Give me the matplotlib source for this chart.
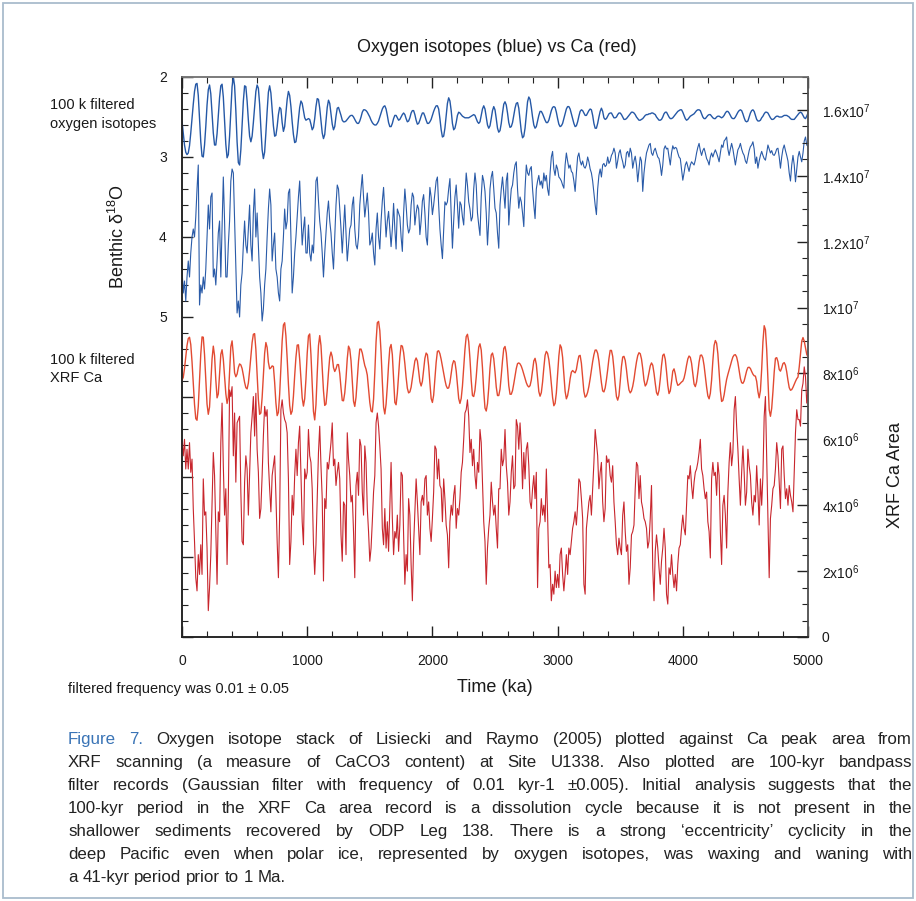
import matplotlib.pyplot as plt
import numpy as np
from matplotlib.patches import Rectangle
from matplotlib.ticker import FixedLocator, FixedFormatter, MultipleLocator

plt.rcParams['font.family'] = ['Liberation Sans', 'DejaVu Sans']
plt.rcParams['mathtext.fontset'] = 'custom'
plt.rcParams['mathtext.rm'] = 'Liberation Sans'
plt.rcParams['mathtext.default'] = 'regular'

# all records sampled every 10 ka, 0 - 5000 ka
AGE_STEP = 10

# benthic d18O stack (per mil)
d18o_raw = [
    4.40, 4.70, 4.55, 4.80, 4.50, 4.30, 4.50, 4.20, 4.00, 3.90,
    4.00, 3.75, 3.40, 3.10, 4.85, 4.60, 4.70, 4.50, 4.65, 4.40,
    4.00, 3.60, 3.90, 3.50, 3.45, 4.50, 4.40, 4.60, 4.30, 3.95,
    3.80, 4.50, 3.90, 3.25, 3.80, 4.50, 4.50, 4.10, 3.80, 3.30,
    3.15, 3.20, 3.80, 4.40, 4.95, 4.80, 5.00, 4.60, 4.45, 4.10,
    3.80, 4.10, 4.20, 3.90, 3.60, 4.10, 4.30, 3.70, 3.40, 4.00,
    3.70, 4.10, 4.50, 4.70, 5.05, 4.90, 4.60, 4.40, 4.00, 3.65,
    3.40, 3.60, 4.30, 4.10, 3.95, 4.40, 4.50, 4.70, 4.80, 4.40,
    4.30, 4.00, 3.65, 3.90, 3.80, 3.45, 3.40, 4.00, 4.70, 4.50,
    4.20, 4.00, 3.75, 3.50, 3.30, 3.70, 4.10, 3.90, 3.75, 4.20,
    4.20, 3.85, 4.20, 4.30, 4.10, 4.20, 3.80, 3.30, 3.25, 3.55,
    3.80, 3.95, 4.20, 4.50, 4.20, 3.95, 3.70, 3.55, 3.80, 3.95,
    4.20, 4.40, 4.00, 3.60, 3.35, 3.40, 3.65, 3.90, 4.20, 3.90,
    3.60, 3.95, 4.30, 4.10, 3.90, 3.85, 3.60, 3.50, 3.90, 4.10,
    4.15, 4.00, 3.60, 3.40, 3.22, 3.50, 3.75, 3.60, 3.45, 3.70,
    4.10, 4.05, 3.95, 4.20, 4.35, 3.90, 3.70, 4.00, 4.15, 3.80,
    3.55, 3.38, 3.70, 4.00, 3.80, 3.68, 3.90, 4.12, 3.90, 3.58,
    3.90, 4.15, 3.65, 3.70, 3.75, 4.00, 4.18, 3.70, 3.40, 3.60,
    3.85, 3.95, 3.90, 3.60, 3.45, 3.50, 3.85, 3.70, 3.60, 3.65,
    3.97, 3.80, 3.55, 3.47, 3.70, 4.00, 4.10, 3.70, 3.38, 3.50,
    3.72, 3.60, 3.45, 3.30, 3.25, 3.60, 3.90, 4.10, 4.27, 3.90,
    3.56, 3.60, 3.56, 3.40, 3.27, 3.70, 4.14, 3.80, 3.50, 3.35,
    3.60, 3.89, 3.56, 3.60, 3.75, 3.85, 3.50, 3.20, 3.35, 3.56,
    3.65, 3.80, 3.75, 3.40, 3.20, 3.35, 3.70, 3.85, 3.98, 3.50,
    3.23, 3.30, 3.43, 3.70, 4.10, 3.80, 3.40, 3.25, 3.18, 3.40,
    3.64, 3.70, 3.95, 4.14, 3.60, 3.40, 3.25, 3.45, 3.64, 3.30,
    3.20, 3.85, 3.60, 3.40, 3.35, 3.20, 3.10, 3.06, 3.40, 3.64,
    3.50, 3.56, 3.70, 3.87, 3.40, 3.10, 3.20, 3.23, 3.15, 3.12,
    3.40, 3.60, 3.77, 3.40, 3.30, 3.23, 3.35, 3.30, 3.39, 3.20,
    3.30, 3.23, 3.40, 3.48, 3.20, 3.00, 2.93, 3.15, 3.23, 3.10,
    3.15, 3.25, 3.27, 3.30, 3.35, 3.39, 3.10, 2.95, 3.05, 3.14,
    3.10, 3.18, 3.20, 3.30, 3.43, 3.20, 3.00, 2.95, 3.05, 3.10,
    3.05, 3.12, 3.14, 3.10, 3.00, 3.06, 3.15, 3.20, 3.30, 3.45,
    3.60, 3.72, 3.40, 3.23, 3.15, 3.25, 3.10, 3.08, 3.12, 3.10,
    3.00, 3.08, 3.05, 2.98, 2.95, 2.89, 2.95, 3.14, 3.05, 2.95,
    2.91, 3.00, 3.06, 3.14, 3.10, 2.95, 2.93, 3.00, 2.89, 2.95,
    3.14, 3.05, 2.99, 3.10, 3.31, 3.15, 3.00, 3.05, 3.43, 3.20,
    3.06, 2.95, 2.90, 2.85, 2.83, 2.95, 2.98, 2.92, 2.89, 2.95,
    3.00, 3.02, 3.10, 3.23, 3.10, 2.90, 2.86, 2.90, 2.89, 3.00,
    3.10, 2.95, 2.86, 2.90, 2.88, 2.89, 2.95, 3.00, 3.02, 3.15,
    3.29, 3.20, 3.10, 3.06, 3.12, 3.18, 3.10, 3.06, 3.08, 3.10,
    3.04, 2.95, 2.88, 2.83, 2.92, 2.98, 2.92, 2.89, 2.95, 3.02,
    3.05, 3.10, 3.00, 2.95, 3.00, 2.95, 2.91, 2.95, 3.00, 3.06,
    2.95, 2.85, 2.88, 2.80, 2.78, 2.75, 2.90, 2.98, 2.90, 2.83,
    2.90, 3.00, 3.10, 3.00, 2.91, 2.88, 2.83, 2.90, 2.95, 2.98,
    3.05, 3.08, 3.00, 2.92, 2.87, 2.85, 2.81, 2.90, 3.08, 3.00,
    3.14, 3.05, 2.98, 2.93, 2.98, 3.02, 3.04, 2.95, 2.85, 2.90,
    2.95, 2.92, 2.97, 2.98, 2.95, 2.90, 2.89, 3.00, 3.14, 3.00,
    2.90, 2.85, 2.92, 2.98, 3.05, 3.20, 3.30, 3.10, 2.98, 3.10,
    3.31, 3.15, 3.00, 2.93, 3.00, 3.06, 2.95, 2.80, 2.75, 2.85,
    2.87,
]

# 100-kyr bandpass of the d18O stack, drawn offset above the raw record
d18o_filt = [
    2.55, 2.70, 2.85, 2.94, 2.97, 2.95, 2.86, 2.70, 2.52, 2.34,
    2.18, 2.09, 2.08, 2.23, 2.52, 2.81, 2.99, 3.00, 2.85, 2.62,
    2.35, 2.16, 2.10, 2.21, 2.45, 2.70, 2.85, 2.85, 2.71, 2.49,
    2.26, 2.11, 2.09, 2.25, 2.55, 2.84, 3.01, 2.97, 2.74, 2.42,
    2.12, 2.00, 2.11, 2.42, 2.81, 3.07, 3.10, 2.91, 2.60, 2.30,
    2.11, 2.12, 2.30, 2.54, 2.74, 2.81, 2.74, 2.57, 2.37, 2.18,
    2.10, 2.14, 2.34, 2.64, 2.91, 3.02, 2.94, 2.70, 2.43, 2.19,
    2.11, 2.20, 2.40, 2.61, 2.74, 2.73, 2.62, 2.47, 2.38, 2.40,
    2.57, 2.68, 2.62, 2.45, 2.28, 2.18, 2.23, 2.37, 2.56, 2.72,
    2.82, 2.81, 2.70, 2.53, 2.38, 2.30, 2.33, 2.42, 2.51, 2.54,
    2.53, 2.52, 2.53, 2.59, 2.66, 2.63, 2.52, 2.37, 2.27, 2.28,
    2.39, 2.55, 2.70, 2.77, 2.72, 2.55, 2.38, 2.29, 2.33, 2.46,
    2.59, 2.66, 2.62, 2.49, 2.39, 2.38, 2.43, 2.48, 2.54, 2.56,
    2.56, 2.55, 2.53, 2.51, 2.49, 2.48, 2.48, 2.50, 2.53, 2.56,
    2.58, 2.58, 2.55, 2.50, 2.44, 2.41, 2.41, 2.42, 2.44, 2.47,
    2.50, 2.54, 2.57, 2.59, 2.60, 2.60, 2.58, 2.55, 2.50, 2.45,
    2.40, 2.37, 2.36, 2.40, 2.48, 2.57, 2.62, 2.62, 2.58, 2.52,
    2.48, 2.48, 2.51, 2.54, 2.53, 2.50, 2.47, 2.45, 2.47, 2.52,
    2.56, 2.55, 2.51, 2.45, 2.42, 2.42, 2.47, 2.54, 2.59, 2.58,
    2.54, 2.49, 2.45, 2.45, 2.49, 2.54, 2.58, 2.58, 2.56, 2.53,
    2.48, 2.43, 2.39, 2.36, 2.36, 2.40, 2.52, 2.66, 2.75, 2.74,
    2.64, 2.48, 2.33, 2.26, 2.30, 2.42, 2.58, 2.66, 2.64, 2.57,
    2.48, 2.44, 2.45, 2.47, 2.49, 2.50, 2.51, 2.51, 2.51, 2.51,
    2.50, 2.49, 2.48, 2.47, 2.48, 2.52, 2.56, 2.58, 2.56, 2.48,
    2.40, 2.36, 2.40, 2.50, 2.60, 2.64, 2.61, 2.52, 2.42, 2.37,
    2.41, 2.52, 2.64, 2.69, 2.67, 2.58, 2.45, 2.34, 2.31, 2.35,
    2.45, 2.57, 2.63, 2.62, 2.57, 2.48, 2.39, 2.33, 2.32, 2.39,
    2.53, 2.68, 2.76, 2.74, 2.64, 2.47, 2.31, 2.25, 2.28, 2.38,
    2.50, 2.60, 2.64, 2.62, 2.55, 2.48, 2.43, 2.43, 2.46, 2.50,
    2.54, 2.57, 2.57, 2.54, 2.48, 2.42, 2.38, 2.37, 2.38, 2.44,
    2.52, 2.59, 2.62, 2.61, 2.58, 2.52, 2.46, 2.40, 2.37, 2.37,
    2.40, 2.46, 2.52, 2.58, 2.62, 2.61, 2.56, 2.49, 2.43, 2.41,
    2.42, 2.45, 2.48, 2.48, 2.45, 2.42, 2.40, 2.41, 2.48, 2.58,
    2.64, 2.64, 2.58, 2.50, 2.43, 2.39, 2.43, 2.51, 2.53, 2.52,
    2.49, 2.46, 2.45, 2.45, 2.48, 2.51, 2.51, 2.50, 2.47, 2.45,
    2.45, 2.47, 2.50, 2.53, 2.53, 2.52, 2.50, 2.48, 2.46, 2.44,
    2.44, 2.45, 2.47, 2.50, 2.52, 2.54, 2.54, 2.53, 2.52, 2.50,
    2.48, 2.47, 2.47, 2.46, 2.46, 2.45, 2.45, 2.46, 2.47, 2.50,
    2.52, 2.54, 2.54, 2.53, 2.50, 2.46, 2.44, 2.44, 2.47, 2.50,
    2.52, 2.52, 2.51, 2.49, 2.47, 2.45, 2.43, 2.42, 2.41, 2.41,
    2.44, 2.48, 2.52, 2.54, 2.53, 2.51, 2.49, 2.48, 2.47, 2.46,
    2.44, 2.42, 2.41, 2.41, 2.42, 2.46, 2.50, 2.52, 2.52, 2.50,
    2.48, 2.47, 2.47, 2.49, 2.51, 2.52, 2.52, 2.50, 2.49, 2.49,
    2.50, 2.51, 2.50, 2.48, 2.45, 2.43, 2.43, 2.45, 2.48, 2.51,
    2.52, 2.52, 2.50, 2.47, 2.44, 2.42, 2.41, 2.42, 2.46, 2.51,
    2.55, 2.56, 2.55, 2.50, 2.45, 2.42, 2.41, 2.43, 2.48, 2.53,
    2.55, 2.55, 2.54, 2.51, 2.49, 2.46, 2.44, 2.44, 2.45, 2.48,
    2.51, 2.53, 2.53, 2.52, 2.50, 2.49, 2.49, 2.50, 2.50, 2.50,
    2.49, 2.48, 2.48, 2.48, 2.49, 2.50, 2.52, 2.53, 2.53, 2.53,
    2.51, 2.49, 2.47, 2.45, 2.44, 2.45, 2.48, 2.51, 2.52, 2.49,
    2.45,
]

# XRF Ca peak area, U1338 (millions of counts)
ca_raw = [
    5.9, 5.5, 6.0, 5.1, 5.7, 5.1, 5.9, 5.0, 5.4, 3.9,
    2.9, 1.8, 1.4, 2.5, 1.9, 2.8, 1.9, 4.8, 3.7, 3.8,
    2.7, 0.8, 1.5, 2.5, 4.0, 5.6, 4.9, 3.2, 1.6, 3.8,
    3.5, 5.9, 7.1, 5.2, 3.7, 4.5, 2.2, 4.2, 7.5, 7.3,
    7.6, 5.5, 6.8, 4.7, 6.5, 6.6, 6.7, 4.4, 2.9, 2.8,
    4.7, 5.5, 5.1, 3.7, 5.0, 6.2, 6.7, 7.3, 6.1, 7.4,
    5.7, 5.0, 3.6, 3.9, 4.9, 6.1, 7.0, 6.7, 6.9, 5.3,
    4.5, 3.8, 4.9, 5.2, 5.5, 4.3, 2.9, 1.8, 3.7, 6.9,
    7.2, 6.8, 6.6, 6.5, 6.2, 4.8, 2.2, 2.9, 4.3, 3.7,
    4.9, 5.7, 4.9, 5.9, 6.4, 5.0, 3.5, 2.8, 5.1, 4.8,
    5.0, 6.3, 5.5, 5.3, 4.5, 2.8, 1.9, 2.8, 4.2, 5.6,
    6.4, 5.2, 4.2, 1.7, 4.2, 3.9, 5.3, 5.1, 5.5, 5.9,
    6.5, 5.2, 5.4, 4.6, 5.0, 5.3, 4.8, 3.1, 2.3, 4.1,
    4.0, 2.5, 6.2, 5.4, 4.9, 4.1, 4.3, 3.2, 1.8, 4.6,
    5.0, 4.3, 6.0, 5.8, 4.4, 3.7, 5.8, 5.3, 3.9, 3.2,
    2.3, 2.7, 3.5, 4.4, 4.9, 6.5, 6.8, 6.4, 5.8, 5.1,
    3.3, 2.8, 3.9, 2.7, 3.5, 2.6, 4.0, 5.3, 3.6, 2.5,
    3.2, 3.0, 3.7, 2.6, 3.4, 5.0, 4.9, 3.1, 1.6, 2.5,
    2.0, 4.2, 3.7, 2.2, 1.1, 2.8, 3.8, 4.8, 4.1, 3.3,
    2.5, 4.1, 4.3, 4.0, 4.8, 4.9, 3.7, 4.1, 3.3, 2.9,
    3.6, 4.4, 5.8, 5.7, 4.8, 5.4, 4.6, 4.5, 3.5, 4.8,
    4.2, 3.4, 3.1, 2.1, 3.5, 4.0, 3.7, 4.3, 4.6, 3.3,
    3.9, 3.7, 4.2, 5.0, 5.3, 6.0, 6.8, 6.9, 7.2, 6.7,
    5.6, 6.0, 5.2, 5.7, 4.9, 4.5, 5.3, 5.0, 6.3, 5.9,
    4.7, 3.5, 2.9, 1.6, 2.7, 3.3, 3.7, 4.7, 4.1, 3.7,
    4.0, 3.3, 2.7, 4.5, 4.5, 5.7, 5.2, 5.4, 6.3, 5.2,
    4.7, 3.7, 4.1, 5.0, 5.5, 4.5, 4.6, 6.6, 6.4, 5.7,
    6.5, 5.8, 4.5, 5.6, 4.8, 5.7, 5.9, 5.2, 4.1, 3.9,
    4.5, 4.9, 4.2, 5.0, 1.5, 3.3, 3.5, 4.2, 3.7, 4.0,
    3.5, 5.1, 3.7, 2.1, 2.2, 1.1, 1.6, 1.3, 2.0, 1.5,
    1.9, 1.5, 2.5, 2.7, 1.9, 1.4, 1.9, 2.5, 1.9, 2.7,
    2.5, 2.9, 3.3, 3.5, 3.8, 3.4, 4.0, 4.8, 4.7, 4.2,
    3.6, 1.6, 1.3, 3.3, 3.7, 4.1, 4.3, 3.7, 4.5, 5.3,
    6.3, 5.9, 5.5, 4.5, 5.0, 5.3, 4.1, 3.5, 3.9, 5.5,
    5.3, 5.4, 4.9, 4.7, 5.2, 4.1, 3.5, 2.8, 2.5, 3.0,
    2.7, 2.5, 3.7, 4.1, 3.2, 2.6, 2.8, 1.6, 2.1, 3.1,
    3.2, 3.4, 4.5, 5.3, 5.2, 4.2, 4.9, 4.1, 3.9, 3.6,
    3.5, 3.3, 2.7, 2.9, 3.6, 4.6, 2.1, 1.1, 2.6, 3.1,
    2.7, 2.1, 1.6, 2.3, 2.7, 3.3, 2.7, 1.3, 1.0, 2.1,
    1.9, 2.5, 1.9, 1.5, 1.9, 1.4, 2.2, 2.7, 2.8, 3.3,
    3.7, 3.3, 3.1, 4.0, 4.9, 4.8, 5.2, 4.6, 4.2, 4.7,
    5.0, 5.1, 5.3, 5.6, 6.0, 5.1, 4.9, 4.5, 4.2, 4.4,
    3.5, 3.2, 2.4, 4.8, 5.3, 4.9, 5.0, 4.3, 5.3, 4.9,
    3.2, 2.2, 4.0, 4.3, 3.7, 2.7, 4.4, 5.3, 5.9, 5.2,
    5.6, 6.9, 7.3, 6.4, 5.7, 4.8, 4.0, 5.0, 5.8, 5.0,
    4.0, 4.4, 5.7, 5.2, 4.9, 4.1, 3.7, 4.3, 4.1, 5.2,
    4.4, 3.4, 4.8, 4.0, 4.9, 6.7, 7.3, 5.4, 3.6, 1.8,
    3.6, 4.0, 4.5, 4.6, 5.1, 5.9, 5.5, 4.7, 3.9, 5.7,
    5.8, 4.9, 4.2, 4.5, 4.0, 4.6, 4.3, 4.1, 3.8, 5.0,
    6.2, 6.9, 6.6, 6.6, 6.4, 7.5, 7.7, 8.2, 7.9, 7.1,
    7.5,
]

# 100-kyr bandpass of the Ca record, drawn offset above the raw record
ca_filt = [
    7.80, 7.88, 8.15, 8.50, 8.85, 9.06, 9.10, 8.88, 8.36, 7.70,
    7.06, 6.63, 6.58, 7.00, 7.78, 8.59, 9.11, 9.10, 8.57, 7.81,
    7.07, 6.76, 6.98, 7.69, 8.44, 8.83, 8.54, 7.81, 7.26, 7.38,
    7.98, 8.58, 8.72, 8.43, 7.90, 7.39, 7.09, 7.27, 8.04, 8.81,
    8.99, 8.57, 8.02, 7.90, 7.98, 8.18, 8.29, 8.26, 8.15, 7.95,
    7.73, 7.57, 7.53, 7.71, 8.08, 8.53, 8.94, 9.19, 9.21, 8.73,
    7.97, 7.21, 6.76, 6.80, 7.27, 7.96, 8.61, 8.94, 8.79, 8.34,
    8.14, 8.17, 8.23, 8.21, 7.73, 7.11, 6.72, 6.82, 7.37, 8.16,
    8.99, 9.47, 9.54, 9.14, 8.46, 7.68, 7.03, 6.76, 6.86, 7.31,
    7.93, 8.49, 8.86, 8.87, 8.43, 7.84, 7.26, 7.01, 7.23, 7.83,
    8.61, 9.14, 9.20, 8.57, 7.67, 6.85, 6.59, 7.05, 7.99, 8.84,
    9.15, 8.85, 8.19, 7.48, 7.03, 7.07, 7.49, 8.03, 8.49, 8.65,
    8.51, 8.18, 8.06, 8.14, 8.27, 8.27, 8.00, 7.56, 7.18, 7.17,
    7.41, 7.86, 8.45, 8.83, 8.74, 8.39, 7.77, 7.16, 7.00, 7.28,
    7.81, 8.38, 8.74, 8.74, 8.62, 8.42, 8.24, 8.13, 7.95, 7.55,
    7.12, 6.86, 6.83, 7.22, 8.03, 8.96, 9.54, 9.58, 9.30, 8.64,
    7.76, 6.98, 6.77, 7.07, 7.62, 8.27, 8.77, 8.88, 8.57, 7.84,
    7.12, 7.05, 7.40, 7.95, 8.50, 8.85, 8.83, 8.64, 8.30, 7.88,
    7.55, 7.41, 7.44, 7.58, 7.85, 8.13, 8.38, 8.47, 8.38, 8.08,
    7.75, 7.62, 7.76, 8.12, 8.46, 8.62, 8.57, 8.23, 7.71, 7.24,
    7.12, 7.34, 7.84, 8.34, 8.67, 8.69, 8.60, 8.43, 8.22, 8.00,
    7.80, 7.63, 7.55, 7.56, 7.72, 8.00, 8.27, 8.39, 8.35, 8.08,
    7.66, 7.24, 7.09, 7.24, 7.62, 8.17, 8.73, 9.12, 9.19, 8.97,
    8.45, 7.80, 7.33, 7.30, 7.49, 7.89, 8.40, 8.80, 8.90, 8.71,
    8.17, 7.47, 6.95, 6.86, 7.08, 7.56, 8.16, 8.56, 8.62, 8.45,
    8.05, 7.59, 7.33, 7.33, 7.52, 7.93, 8.39, 8.76, 8.82, 8.62,
    8.16, 7.63, 7.37, 7.37, 7.48, 7.69, 7.93, 8.15, 8.30, 8.32,
    8.29, 8.22, 8.11, 7.98, 7.85, 7.72, 7.63, 7.59, 7.63, 7.80,
    8.09, 8.38, 8.46, 8.28, 7.88, 7.45, 7.31, 7.42, 7.74, 8.17,
    8.55, 8.67, 8.61, 8.42, 8.10, 7.68, 7.27, 7.02, 7.09, 7.41,
    7.95, 8.53, 8.87, 8.79, 8.49, 7.98, 7.46, 7.23, 7.33, 7.55,
    7.84, 8.04, 8.09, 8.05, 8.02, 8.12, 8.35, 8.53, 8.55, 8.31,
    7.88, 7.45, 7.28, 7.32, 7.43, 7.61, 7.84, 8.10, 8.36, 8.57,
    8.71, 8.71, 8.61, 8.38, 8.06, 7.72, 7.47, 7.44, 7.56, 7.81,
    8.11, 8.45, 8.70, 8.70, 8.52, 8.14, 7.67, 7.30, 7.19, 7.33,
    7.75, 8.21, 8.50, 8.52, 8.40, 8.12, 7.77, 7.50, 7.41, 7.47,
    7.61, 7.82, 8.10, 8.35, 8.54, 8.63, 8.60, 8.44, 8.15, 7.80,
    7.62, 7.68, 7.83, 8.03, 8.23, 8.32, 8.25, 8.01, 7.70, 7.42,
    7.34, 7.49, 7.83, 8.24, 8.55, 8.59, 8.43, 8.06, 7.64, 7.39,
    7.47, 7.75, 8.07, 8.14, 7.99, 7.76, 7.64, 7.66, 7.70, 7.74,
    7.77, 7.86, 8.03, 8.25, 8.44, 8.53, 8.49, 8.31, 8.00, 7.68,
    7.60, 7.74, 8.03, 8.35, 8.55, 8.56, 8.47, 8.24, 7.92, 7.59,
    7.32, 7.23, 7.40, 7.80, 8.38, 8.85, 9.00, 8.92, 8.60, 8.05,
    7.48, 7.15, 7.18, 7.35, 7.60, 7.82, 7.97, 8.10, 8.24, 8.38,
    8.50, 8.56, 8.57, 8.50, 8.33, 8.08, 7.85, 7.72, 7.70, 7.77,
    7.92, 8.08, 8.18, 8.19, 8.15, 8.06, 7.98, 7.93, 7.92, 7.76,
    7.45, 7.26, 7.48, 8.13, 8.96, 9.45, 9.33, 8.73, 7.78, 6.90,
    6.70, 6.94, 7.45, 8.04, 8.46, 8.48, 8.36, 8.12, 8.07, 8.17,
    8.30, 8.33, 8.25, 8.05, 7.79, 7.57, 7.49, 7.51, 7.58, 7.67,
    7.76, 7.84, 7.89, 8.20, 8.60, 8.98, 9.09, 8.98, 8.78, 8.58,
    8.50,
]

x_ticks = [0, 1000, 2000, 3000, 4000, 5000]
d18o_ticks = [2, 3, 4, 5]
ca_ticks = [0, 2e6, 4e6, 6e6, 8e6, 1e7, 1.2e7, 1.4e7, 1.6e7]
ca_tick_labels = ['0', '2x10$^{6}$', '4x10$^{6}$', '6x10$^{6}$', '8x10$^{6}$',
                  '1x10$^{7}$', '1.2x10$^{7}$', '1.4x10$^{7}$', '1.6x10$^{7}$']

caption_lines = [
    'Figure 7. Oxygen isotope stack of Lisiecki and Raymo (2005) plotted against Ca peak area from',
    'XRF scanning (a measure of CaCO3 content) at Site U1338. Also plotted are 100-kyr bandpass',
    'filter records (Gaussian filter with frequency of 0.01 kyr-1 \u00b10.005). Initial analysis suggests that the',
    '100-kyr period in the XRF Ca  area record is a dissolution cycle because it is not present in the',
    'shallower sediments recovered by ODP Leg 138. There is a strong \u2018eccentricity\u2019 cyclicity in the',
    'deep Pacific even when polar ice, represented by oxygen isotopes, was waxing and waning with',
    'a 41-kyr period prior to 1 Ma.',
]

W, H = 916, 901
BLUE_RAW = '#2a5ba8'
BLUE_FILT = '#2558a6'
RED_RAW = '#c8262d'
RED_FILT = '#e24a32'
TEXT = '#1a1a1a'


def fx(px):
    return px / W


def fy(py):
    return 1 - py / H


fig = plt.figure(figsize=(W / 100, H / 100), dpi=100)
fig.patch.set_facecolor('white')

age = np.arange(len(d18o_raw)) * AGE_STEP

ax = fig.add_axes([fx(182), fy(637), (808 - 182) / W, (637 - 77) / H])
ax.plot(age, d18o_raw, color=BLUE_RAW, lw=0.8)
ax.plot(age, d18o_filt, color=BLUE_FILT, lw=1.0)
ax.set_xlim(0, 5000)
ax.set_ylim(9, 2)

ax.xaxis.set_major_locator(FixedLocator(x_ticks))
ax.xaxis.set_minor_locator(MultipleLocator(200))
ax.yaxis.set_major_locator(FixedLocator(range(2, 10)))
ax.yaxis.set_major_formatter(FixedFormatter(
    [str(v) if v in d18o_ticks else '' for v in range(2, 10)]))
ax.yaxis.set_minor_locator(MultipleLocator(0.2))
ax.tick_params(which='both', direction='in', top=True, colors='#222222',
               labelsize=10, labelcolor=TEXT)
ax.tick_params(axis='x', which='major', length=8, width=1.0, pad=12)
ax.tick_params(axis='x', which='minor', length=4, width=0.8)
ax.tick_params(axis='y', which='major', length=8, width=1.0, pad=11)
ax.tick_params(axis='y', which='minor', length=4, width=0.8)

ax2 = ax.twinx()
ax2.plot(age, np.array(ca_raw) * 1e6, color=RED_RAW, lw=0.8)
ax2.plot(age, np.array(ca_filt) * 1e6, color=RED_FILT, lw=1.0)
ax2.set_ylim(0, 1.7e7)
ax2.yaxis.set_major_locator(FixedLocator(ca_ticks))
ax2.yaxis.set_major_formatter(FixedFormatter(ca_tick_labels))
ax2.yaxis.set_minor_locator(MultipleLocator(5e5))
ax2.tick_params(which='both', direction='in', colors='#222222',
                labelsize=10, labelcolor=TEXT)
ax2.tick_params(which='major', length=8, width=1.0, pad=10)
ax2.tick_params(which='minor', length=4, width=0.8)

for a in (ax, ax2):
    a.spines['left'].set_color('#222222')
    a.spines['bottom'].set_color('#222222')
    a.spines['top'].set_color('#777777')
    a.spines['right'].set_color('#555555')
    for s in a.spines.values():
        s.set_linewidth(1.1)

# headings and labels
fig.text(fx(497), fy(48), 'Oxygen isotopes (blue) vs Ca (red)', ha='center',
         va='center', fontsize=13, color=TEXT)
fig.text(fx(495), fy(688), 'Time (ka)', ha='center', va='center',
         fontsize=13, color=TEXT)
fig.text(fx(118), fy(237), 'Benthic \u03b4$^{18}$O', ha='center', va='center',
         rotation=90, fontsize=13, color=TEXT)
fig.text(fx(895), fy(475), 'XRF Ca Area', ha='center', va='center',
         rotation=90, fontsize=13, color=TEXT)

fig.text(fx(50), fy(105), '100 k filtered', va='center', fontsize=10.5, color=TEXT)
fig.text(fx(50), fy(124), 'oxygen isotopes', va='center', fontsize=10.5, color=TEXT)
fig.text(fx(50), fy(360), '100 k filtered', va='center', fontsize=10.5, color=TEXT)
fig.text(fx(50), fy(378), 'XRF Ca', va='center', fontsize=10.5, color=TEXT)
fig.text(fx(68), fy(689), 'filtered frequency was 0.01 \u00b1 0.05', va='center',
         fontsize=10.5, color=TEXT)

# justified caption block
renderer = fig.canvas.get_renderer()
left_px, right_px = 68, 912
cap_size = 12.2
space_px = cap_size * 100 / 72 * 0.28
for i, line in enumerate(caption_lines):
    base = 744 + 23 * i
    words = line.split()
    arts = []
    for j, w in enumerate(words):
        col = '#3a74b6' if (i == 0 and j < 2) else '#222222'
        arts.append(fig.text(0, fy(base), w, va='baseline', ha='left',
                             fontsize=cap_size, color=col))
    widths = [a.get_window_extent(renderer).width for a in arts]
    if i < len(caption_lines) - 1:
        gap = (right_px - left_px - sum(widths)) / (len(words) - 1)
    else:
        gap = space_px
    xpos = left_px
    for a, wdt in zip(arts, widths):
        a.set_x(fx(xpos))
        xpos += wdt + gap

fig.patches.append(Rectangle((fx(3), fy(898)), fx(910), (898 - 3) / H,
                             transform=fig.transFigure, fill=False,
                             edgecolor='#a9bccd', lw=1.3))

fig.savefig('out.png', dpi=100)
